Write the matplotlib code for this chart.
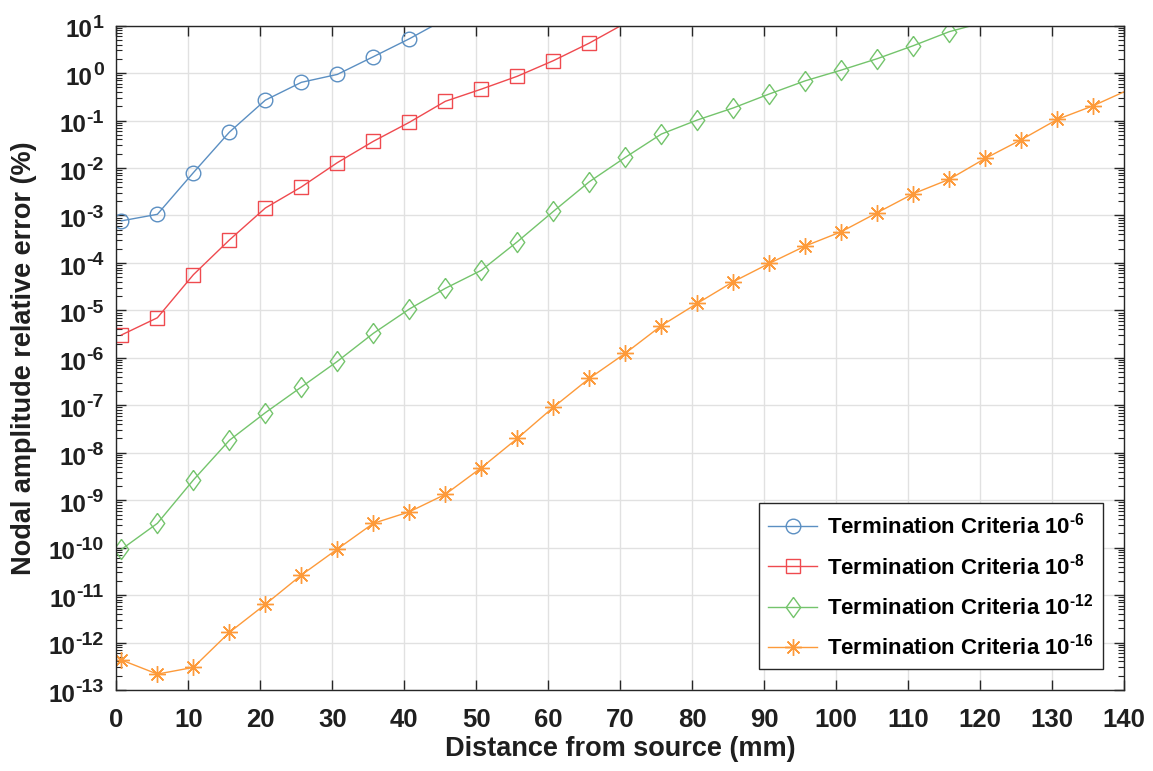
import numpy as np
import matplotlib
matplotlib.use('Agg')
import matplotlib.pyplot as plt
from matplotlib.ticker import LogLocator, NullFormatter, FixedLocator
from matplotlib.transforms import ScaledTranslation

plt.rcParams['font.family'] = ['Liberation Sans', 'DejaVu Sans']
plt.rcParams['font.weight'] = 'bold'
plt.rcParams['mathtext.fontset'] = 'custom'
plt.rcParams['mathtext.rm'] = 'Liberation Sans:bold'
plt.rcParams['mathtext.it'] = 'Liberation Sans:bold'
plt.rcParams['mathtext.bf'] = 'Liberation Sans:bold'
plt.rcParams['mathtext.default'] = 'rm'

# data (distance in mm, error in %)
x_tc6 = [0.7, 5.7, 10.7, 15.7, 20.7, 25.7, 30.7, 35.7, 40.7, 45.7]
err_tc6 = [7.7e-4, 1.06e-3, 8.0e-3, 0.057, 0.27, 0.64, 0.94, 2.22, 5.3, 13.8]

x_tc8 = [0.7, 5.7, 10.7, 15.7, 20.7, 25.7, 30.7, 35.7, 40.7, 45.7,
         50.7, 55.7, 60.7, 65.7, 70.7]
err_tc8 = [3.03e-6, 7.0e-6, 5.65e-5, 3.05e-4, 1.44e-3, 4.0e-3, 0.013, 0.0366,
           0.092, 0.255, 0.46, 0.86, 1.83, 4.3, 11.3]

x_tc12 = [0.7, 5.7, 10.7, 15.7, 20.7, 25.7, 30.7, 35.7, 40.7, 45.7,
          50.7, 55.7, 60.7, 65.7, 70.7, 75.7, 80.7, 85.7, 90.7, 95.7,
          100.7, 105.7, 110.7, 115.7, 120.7]
err_tc12 = [9.2e-11, 3.26e-10, 2.67e-9, 1.83e-8, 7.0e-8, 2.43e-7, 8.45e-7,
            3.29e-6, 1.07e-5, 2.92e-5, 7.0e-5, 2.8e-4, 1.22e-3, 5.15e-3,
            0.0168, 0.052, 0.103, 0.185, 0.364, 0.69, 1.16, 2.02, 3.79, 7.48, 12.0]

x_tc16 = [0.7, 5.7, 10.7, 15.7, 20.7, 25.7, 30.7, 35.7, 40.7, 45.7,
          50.7, 55.7, 60.7, 65.7, 70.7, 75.7, 80.7, 85.7, 90.7, 95.7,
          100.7, 105.7, 110.7, 115.7, 120.7, 125.7, 130.7, 135.7, 140.7]
err_tc16 = [4.3e-13, 2.17e-13, 3.0e-13, 1.64e-12, 6.4e-12, 2.65e-11, 9.35e-11,
            3.26e-10, 5.7e-10, 1.33e-9, 4.84e-9, 2.01e-8, 9.1e-8, 3.7e-7,
            1.25e-6, 4.77e-6, 1.41e-5, 4.03e-5, 9.8e-5, 2.28e-4, 4.56e-4,
            1.15e-3, 2.88e-3, 5.8e-3, 0.016, 0.0396, 0.106, 0.206, 0.454]

labels = [r'Termination Criteria $10^{\text{-6}}$', r'Termination Criteria $10^{\text{-8}}$',
          r'Termination Criteria $10^{\text{-12}}$', r'Termination Criteria $10^{\text{-16}}$']

xticks = [0, 10, 20, 30, 40, 50, 60, 70, 80, 90, 100, 110, 120, 130, 140]
ytick_exps = ['-13', '-12', '-11', '-10', '-9', '-8', '-7', '-6', '-5',
              '-4', '-3', '-2', '-1', '0', '1']

xmin, xmax = 0, 140
ymin, ymax = 1e-13, 1e1
txt_col = '#1f1f1f'

diamond = [(0, 1), (0.72, 0), (0, -1), (-0.72, 0), (0, 1)]
series = [
    (x_tc6, err_tc6, '#5b8fc2', 'o', 10.5),
    (x_tc8, err_tc8, '#ef4a4f', 's', 10.0),
    (x_tc12, err_tc12, '#74c46c', diamond, 14.5),
    (x_tc16, err_tc16, '#fd9a3a', (8, 2, 0), 12.0),
]

fig = plt.figure(figsize=(11.53, 7.71), dpi=100)
ax = fig.add_axes([0.1009, 0.105, 0.8742, 0.8617])

for (xs, ys, col, mk, ms), lab in zip(series, labels):
    # only draw markers that fall inside the axes limits
    keep = [i for i, (a, b) in enumerate(zip(xs, ys)) if xmin <= a <= xmax and ymin <= b <= ymax]
    ax.plot(xs, ys, color=col, lw=1.0, marker=mk, ms=ms, mfc='none',
            mec=col, mew=1.0, markevery=keep, label=lab)

ax.set_yscale('log')
ax.set_xlim(xmin, xmax)
ax.set_ylim(ymin, ymax)

ax.xaxis.set_major_locator(FixedLocator(xticks))
ytick_vals = [10.0 ** int(e) for e in ytick_exps]
ax.yaxis.set_major_locator(FixedLocator(ytick_vals))
ax.yaxis.set_minor_locator(LogLocator(base=10, subs=np.arange(2, 10), numticks=20))
ax.yaxis.set_minor_formatter(NullFormatter())

ax.grid(True, which='major', color='#e1e1e1', lw=1.0)
ax.set_axisbelow(True)
ax.tick_params(which='both', direction='in', top=True, right=True,
               colors='#262626', labelcolor=txt_col)
ax.tick_params(axis='x', labelsize=18.5, pad=13)
ax.tick_params(axis='y', labelleft=False)
ax.tick_params(which='major', length=7, width=1.0)
ax.tick_params(which='minor', length=4, width=0.8)
for sp in ax.spines.values():
    sp.set_color('#262626')
    sp.set_linewidth(1.0)

# y tick labels drawn as "10" plus a raised exponent (MATLAB look)
base_fs, exp_fs = 17.5, 14
rise = 0.55 * 0.716 * base_fs
total = rise + 0.716 * exp_fs
base_dy = -total / 2
exp_dy = base_dy + rise
ytr = ax.get_yaxis_transform()
for v, e in zip(ytick_vals, ytick_exps):
    et = ax.text(0, v, e, transform=ytr + ScaledTranslation(-9 / 72, exp_dy / 72, fig.dpi_scale_trans),
                 ha='right', va='baseline', fontsize=exp_fs, fontweight='bold', color=txt_col)
    ax.annotate('10', xy=(0, v), xycoords=(et, ytr), xytext=(-0.3, base_dy),
                textcoords='offset points', ha='right', va='baseline',
                fontsize=base_fs, fontweight='bold', color=txt_col, annotation_clip=False)

ax.set_xlabel('Distance from source (mm)', fontsize=19.5, fontweight='bold', color=txt_col)
ax.set_ylabel('Nodal amplitude relative error (%)', fontsize=19.5, fontweight='bold', color=txt_col)
ax.xaxis.set_label_coords(0.5, -0.069)
ax.yaxis.set_label_coords(-0.079, 0.5)

leg = ax.legend(loc='lower right', bbox_to_anchor=(0.979, 0.0316), borderaxespad=0,
                fontsize=16, handlelength=2.2, handletextpad=0.45, labelspacing=0.65,
                fancybox=False, edgecolor='#262626', framealpha=1.0, borderpad=0.42)
leg.get_frame().set_linewidth(1.0)

fig.savefig('out.png', dpi=100)
